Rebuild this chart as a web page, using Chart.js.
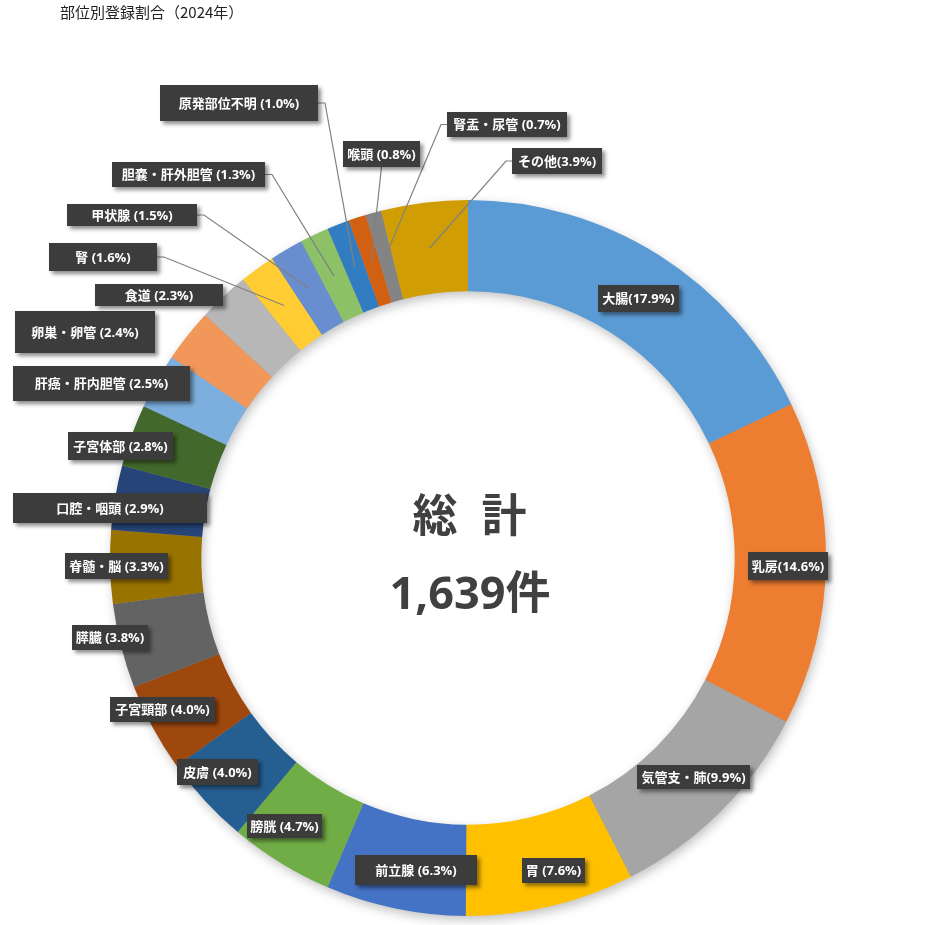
<!DOCTYPE html>
<html><head><meta charset="utf-8">
<script src="https://cdn.jsdelivr.net/npm/chart.js@4/dist/chart.umd.min.js"></script>
<style>html,body{margin:0;padding:0;background:#fff;}canvas{display:block;}</style>
</head><body>
<canvas id="c" width="930" height="925"></canvas>
<script>
// ---- data ----
const chartTitle = '部位別登録割合（2024年）';
const categories = ['大腸','乳房','気管支・肺','胃','前立腺','膀胱','皮膚','子宮頸部','膵臓','脊髄・脳','口腔・咽頭','子宮体部','肝癌・肝内胆管','卵巣・卵管','食道','腎','甲状腺','胆嚢・肝外胆管','原発部位不明','喉頭','腎盂・尿管','その他'];
const percents = [17.9,14.6,9.9,7.6,6.3,4.7,4.0,4.0,3.8,3.3,2.9,2.8,2.5,2.4,2.3,1.6,1.5,1.3,1.0,0.8,0.7,3.9];
const tightLabels = ['大腸','乳房','気管支・肺','その他'];
const centerLabel = ['総','計'];
const totalCount = 1639;
const countUnit = '件';

// ---- styles / layout ----
const colors = ['#5B9BD5','#ED7D31','#A5A5A5','#FFC000','#4472C4','#70AD47','#255E91','#9E480E','#636363','#997300','#264478','#43682B','#7CAFDD','#F1975A','#B7B7B7','#FFCD33','#698ED0','#8CC168','#327DC2','#D26012','#848484','#D09E04'];
// label boxes: left, top, width, height, leader anchor side
const labelBoxes = [
  [598,285,81,27,''],[748,552,80,28,''],[637,765,113,24,''],[522,858,63,25,''],
  [355,855,122,30,''],[247,814,75,24,''],[177,759,81,26,''],[110,697,105,25,''],
  [72,625,76,25,''],[65,553,103,26,''],[13,493,194,30,''],[68,432,105,28,''],
  [13,366,177,35,''],[15,311,140,42,''],[95,284,128,22,''],[49,243,108,28,'r'],
  [67,204,130,22,'r'],[112,162,153,25,'r'],[160,85,158,36,'r'],[343,141,77,26,'b'],
  [447,112,120,25,'l'],[512,148,90,26,'l']
];
const labelFont = "bold 13px 'Open Sans','Noto Sans CJK JP',sans-serif";

const ringShadow = {
  id:'ringShadow',
  beforeDatasetsDraw(chart){
    const arc = chart.getDatasetMeta(0).data[0];
    if(!arc) return;
    const {x,y,outerRadius,innerRadius} = arc.getProps(['x','y','outerRadius','innerRadius'],true);
    const ctx = chart.ctx;
    ctx.save();
    ctx.shadowColor='rgba(0,0,0,0.28)';
    ctx.shadowBlur=12; ctx.shadowOffsetX=2; ctx.shadowOffsetY=4;
    ctx.beginPath();
    ctx.arc(x,y,outerRadius-1,0,Math.PI*2);
    ctx.arc(x,y,innerRadius+1,0,Math.PI*2,true);
    ctx.fillStyle='#999';
    ctx.fill('evenodd');
    ctx.restore();
  }
};

const labelsPlugin = {
  id:'labelsPlugin',
  afterDatasetsDraw(chart){
    const ctx = chart.ctx;
    const meta = chart.getDatasetMeta(0);
    // title
    ctx.save();
    ctx.font = "15px 'Noto Sans CJK JP',sans-serif";
    ctx.fillStyle = '#222';
    ctx.textBaseline='alphabetic'; ctx.textAlign='left';
    ctx.fillText(chartTitle, 60, 18);
    // center text
    const a0 = meta.data[0];
    const cx = a0.x, cy = a0.y;
    ctx.fillStyle = '#404040';
    ctx.textAlign='center'; ctx.textBaseline='middle';
    ctx.font = "bold 45px 'Noto Sans CJK JP',sans-serif";
    ctx.fillText(centerLabel[0], cx-33, cy-43);
    ctx.fillText(centerLabel[1], cx+36, cy-43);
    ctx.font = "bold 45px 'Open Sans','Noto Sans CJK JP',sans-serif";
    ctx.fillText(totalCount.toLocaleString('en-US')+countUnit, cx+2, cy+38);
    // leader lines
    ctx.strokeStyle='#808080'; ctx.lineWidth=1.2;
    meta.data.forEach((arc,i)=>{
      const b = labelBoxes[i];
      if(!b[4]) return;
      const p = arc.getCenterPoint();
      ctx.beginPath();
      if(b[4]==='r'){ const yy=b[1]+b[3]/2; ctx.moveTo(b[0]+b[2],yy); ctx.lineTo(b[0]+b[2]+7,yy); }
      else if(b[4]==='l'){ const yy=b[1]+b[3]/2; ctx.moveTo(b[0],yy); ctx.lineTo(b[0]-6,yy); }
      else { ctx.moveTo(b[0]+b[2]/2,b[1]+b[3]); }
      ctx.lineTo(p.x,p.y);
      ctx.stroke();
    });
    // boxes
    meta.data.forEach((arc,i)=>{
      const b = labelBoxes[i];
      ctx.save();
      ctx.shadowColor='rgba(0,0,0,0.45)'; ctx.shadowBlur=4; ctx.shadowOffsetX=3; ctx.shadowOffsetY=3;
      ctx.fillStyle='#3c3c3c';
      ctx.fillRect(b[0],b[1],b[2],b[3]);
      ctx.restore();
      const name = categories[i];
      const txt = name + (tightLabels.includes(name)?'':' ') + '(' + percents[i].toFixed(1) + '%)';
      ctx.fillStyle='#fff'; ctx.font=labelFont;
      ctx.textAlign='center'; ctx.textBaseline='middle';
      ctx.fillText(txt, b[0]+b[2]/2, b[1]+b[3]/2+1);
    });
    ctx.restore();
  }
};

new Chart(document.getElementById('c'), {
  type:'doughnut',
  data:{ labels:categories, datasets:[{ data:percents, backgroundColor:colors, borderWidth:0 }] },
  options:{
    responsive:false, animation:false, cutout:'74.5%',
    layout:{ padding:{ left:110, right:104, top:200, bottom:9 } },
    plugins:{ legend:{display:false}, tooltip:{enabled:false}, title:{display:false} }
  },
  plugins:[ringShadow, labelsPlugin]
});
</script>
</body></html>
